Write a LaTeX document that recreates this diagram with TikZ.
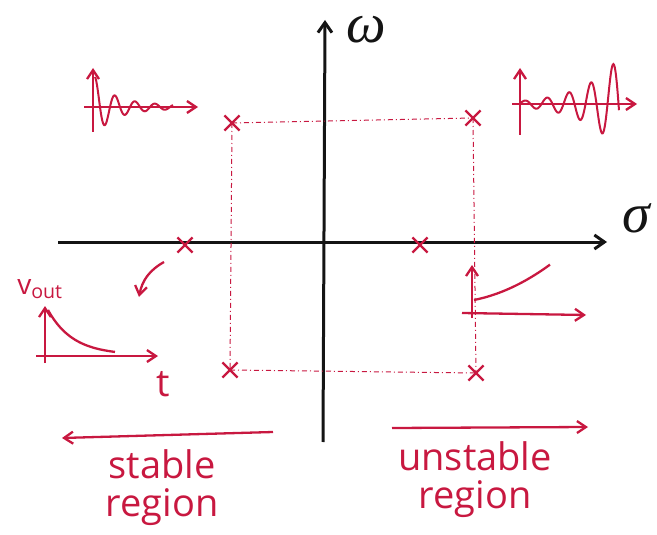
\documentclass[tikz,border=0pt]{standalone}
\usepackage{fontspec}
\setmainfont{Open Sans}
\newfontfamily\greekfont{Liberation Serif}
\usetikzlibrary{arrows.meta,shapes.misc}
\definecolor{ink}{RGB}{200,24,64}
\definecolor{pen}{RGB}{20,20,20}
\tikzset{
  axis/.style={draw=pen,line width=3pt,-{Straight Barb[length=10pt,width=14pt]}},
  redline/.style={draw=ink,line width=2.3pt},
  redarrow/.style={redline,-{Straight Barb[length=9pt,width=12pt]}},
  pole/.style={cross out,draw=ink,line width=2.2pt,minimum size=13pt,inner sep=0pt},
  guide/.style={draw=ink,line width=1pt,dash pattern=on 5pt off 3pt on 1pt off 3pt},
  lbl/.style={text=ink,font=\fontsize{38}{38}\selectfont,align=center,inner sep=0pt},
  axlbl/.style={text=pen,font=\greekfont\itshape\fontsize{56}{58}\selectfont,inner sep=0pt}
}
\begin{document}
\begin{tikzpicture}[x=1pt,y=-1pt]
\useasboundingbox (0,0) rectangle (657,535);
% main axes
\coordinate (vb) at (323,442);
\coordinate (vt) at (325,20);
\coordinate (hl) at (58,242);
\coordinate (hr) at (607,242);
\draw[axis] (vb) -- (vt);
\draw[axis] (hl) -- (hr);
\node[axlbl] (omega) at (366,30) {ω};
\node[axlbl] (sigma) at (636,218) {σ};
% poles
\node[pole] (p1) at (185,245) {};
\node[pole] (p2) at (420,245) {};
\node[pole] (p3) at (232,123) {};
\node[pole] (p4) at (473,118) {};
\node[pole] (p5) at (230,370) {};
\node[pole] (p6) at (476,373) {};
% guide rectangle
\draw[guide] (p3.center) -- (p4.center);
\draw[guide] (p3.center) -- (p5.center);
\draw[guide] (p4.center) -- (p6.center);
\draw[guide] (p5.center) -- (p6.center);
% top-left damped oscillation
\coordinate (a1b) at (93,132);
\coordinate (a1t) at (93,68);
\coordinate (a1l) at (84,107);
\coordinate (a1r) at (198,107);
\draw[redarrow] (a1b) -- (a1t);
\draw[redarrow] (a1l) -- (a1r);
\draw[redline,line width=2pt] plot[domain=0:78,samples=120,smooth] ({95+\x},{107-(22*exp(-\x/15)+8*exp(-\x/60))*cos(\x*18)});
% top-right growing oscillation
\coordinate (a2b) at (520,135);
\coordinate (a2t) at (520,68);
\coordinate (a2l) at (512,104);
\coordinate (a2r) at (637,104);
\draw[redarrow] (a2b) -- (a2t);
\draw[redarrow] (a2l) -- (a2r);
\draw[redline,line width=2pt] plot[domain=0:99,samples=160,smooth] ({520+\x},{104-3*exp(\x/36)*sin(\x*16.36+8)});
% bottom-left decay plot
\node[lbl,font=\fontsize{28}{30}\selectfont] (vout) at (40,289) {v\textsubscript{out}};
\coordinate (a3b) at (45,363);
\coordinate (a3t) at (45,306);
\coordinate (a3l) at (36,356);
\coordinate (a3r) at (158,356);
\draw[redarrow] (a3b) -- (a3t);
\draw[redarrow] (a3l) -- (a3r);
\draw[redline] plot[domain=48:115,samples=60,smooth] ({\x},{355-45*exp(-(\x-48)/25)});
\node[lbl] (tlab) at (163,384) {t};
% pointer arrow
\coordinate (c1) at (164,262);
\coordinate (c2) at (139,297);
\draw[redarrow] (c1) to[bend right=25] (c2);
% right growing exponential
\coordinate (a4b) at (472,318);
\coordinate (a4t) at (472,265);
\coordinate (a4l) at (462,313);
\coordinate (a4r) at (586,315);
\draw[redarrow] (a4b) -- (a4t);
\draw[redarrow] (a4l) -- (a4r);
\draw[redline] plot[domain=474:550,samples=60,smooth] ({\x},{300-0.2*(\x-474)-0.0035*(\x-474)*(\x-474)});
% region arrows
\coordinate (s1) at (273,432);
\coordinate (s2) at (62,438);
\draw[redarrow] (s1) -- (s2);
\coordinate (u1) at (392,428);
\coordinate (u2) at (588,427);
\draw[redarrow] (u1) -- (u2);
\node[lbl] (stable) at (162,488) {stable\\region};
\node[lbl] (unstable) at (475,480) {unstable\\region};
\end{tikzpicture}
\end{document}
